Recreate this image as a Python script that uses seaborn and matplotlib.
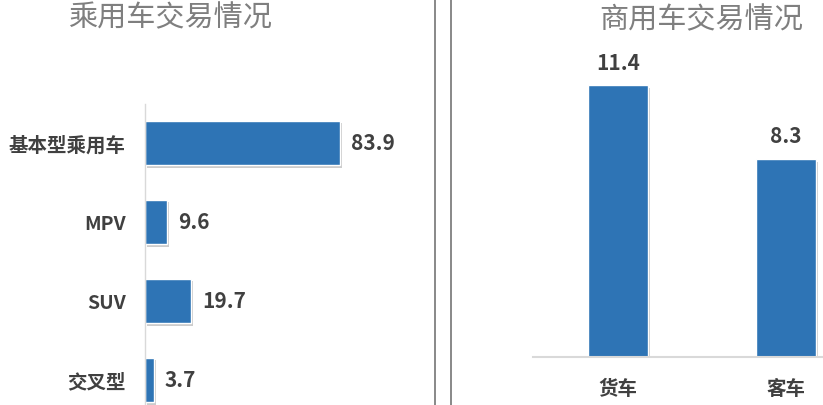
import matplotlib
matplotlib.use("Agg")
import matplotlib.pyplot as plt
import matplotlib.patheffects as pe
from matplotlib.lines import Line2D
import seaborn as sns
import pandas as pd

# passenger cars (left panel)
passenger_types = ["基本型乘用车", "MPV", "SUV", "交叉型"]
passenger_values = [83.9, 9.6, 19.7, 3.7]

# commercial vehicles (right panel)
commercial_types = ["货车", "客车"]
commercial_values = [11.4, 8.3]

BLUE = "#2E74B5"
LABEL = "#404040"
TITLE = "#7f7f7f"
FONT = ["Noto Sans CJK SC", "DejaVu Sans"]

sns.set_style("white")
plt.rcParams["font.family"] = FONT

fig = plt.figure(figsize=(8.23, 4.06), dpi=100)
shadow = [pe.SimplePatchShadow(offset=(1.5, -2), shadow_rgbFace="#000000", alpha=0.2), pe.Normal()]

# left: horizontal bars
ax1 = fig.add_axes([145 / 823, 0.0, 275 / 823, 301 / 406])
df1 = pd.DataFrame({"type": passenger_types, "value": passenger_values})
sns.barplot(data=df1, x="value", y="type", color=BLUE, width=0.56, saturation=1, ax=ax1)
for p in ax1.patches:
    p.set_path_effects(shadow)
ax1.bar_label(ax1.containers[0], fmt="%.1f", padding=8, fontsize=15,
              fontweight="bold", color=LABEL)
ax1.set_xlim(0, 118.5)
ax1.set_ylim(3.32, -0.49)
ax1.set_xlabel("")
ax1.set_ylabel("")
ax1.set_xticks([])
ax1.tick_params(axis="y", length=0, pad=14)
for lbl in ax1.get_yticklabels():
    lbl.set_fontsize(14)
    lbl.set_fontweight("bold")
    lbl.set_color(LABEL)
for s in ["top", "right", "bottom"]:
    ax1.spines[s].set_visible(False)
ax1.spines["left"].set_color("#d9d9d9")
ax1.spines["left"].set_linewidth(1)

# right: vertical bars
ax2 = fig.add_axes([533 / 823, 48 / 406, 290 / 823, 318 / 406])
df2 = pd.DataFrame({"type": commercial_types, "value": commercial_values})
sns.barplot(data=df2, x="type", y="value", color=BLUE, width=0.36, saturation=1, ax=ax2)
for p in ax2.patches:
    p.set_path_effects(shadow)
ax2.bar_label(ax2.containers[0], fmt="%.1f", padding=9, fontsize=15,
              fontweight="bold", color=LABEL)
ax2.set_xlim(-0.506, 1.22)
ax2.set_ylim(0, 13.33)
ax2.set_xlabel("")
ax2.set_ylabel("")
ax2.set_yticks([])
ax2.tick_params(axis="x", length=0, pad=16)
for lbl in ax2.get_xticklabels():
    lbl.set_fontsize(14)
    lbl.set_fontweight("bold")
    lbl.set_color(LABEL)
for s in ["top", "right", "left"]:
    ax2.spines[s].set_visible(False)
ax2.spines["bottom"].set_color("#d9d9d9")
ax2.spines["bottom"].set_linewidth(1.5)

# titles
fig.text(170 / 823, 1 - 18 / 406, "乘用车交易情况", ha="center", va="center",
         fontsize=21, color=TITLE)
fig.text(701 / 823, 1 - 20 / 406, "商用车交易情况", ha="center", va="center",
         fontsize=21, color=TITLE)

# double separator line
for x in (435 / 823, 451 / 823):
    fig.add_artist(Line2D([x, x], [0, 1], transform=fig.transFigure,
                          color="#7f7f7f", linewidth=1.3))

fig.savefig("out.png", dpi=100)
